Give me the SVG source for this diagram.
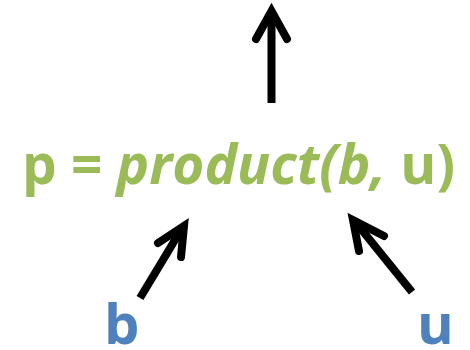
<svg xmlns="http://www.w3.org/2000/svg" width="470" height="350" viewBox="0 0 470 350">
<style>
.eq{font-family:"Open Sans","Liberation Sans",sans-serif;font-weight:bold;font-size:55px;fill:#9BBB59}
.lbl{font-family:"Open Sans","Liberation Sans",sans-serif;font-weight:bold;font-size:56px;fill:#4F81BD}
.shaft{fill:none;stroke:#000;stroke-width:8;stroke-linecap:butt}
.head{fill:none;stroke:#000;stroke-width:8;stroke-linecap:round;stroke-linejoin:miter}
</style>
<rect width="470" height="350" fill="#fff"/>
<g id="connectors">
<g id="arrow-out"><path class="shaft" d="M271.5,103 L271.5,14"/><path class="head" d="M256,39 L271.5,11 L287,39"/></g>
<g id="arrow-b"><path class="shaft" d="M140,298 L181,230"/><path class="head" d="M158,243 L184,226 L181,257"/></g>
<g id="arrow-u"><path class="shaft" d="M412,292 L357,224"/><path class="head" d="M384,236 L353,220 L359,251"/></g>
</g>
<g id="node-p"><text class="eq" x="22" y="184" textLength="433" lengthAdjust="spacingAndGlyphs">p = <tspan font-style="italic">product(b,</tspan> u)</text></g>
<g id="node-b"><text class="lbl" x="104" y="344">b</text></g>
<g id="node-u"><text class="lbl" x="417" y="344">u</text></g>
</svg>
